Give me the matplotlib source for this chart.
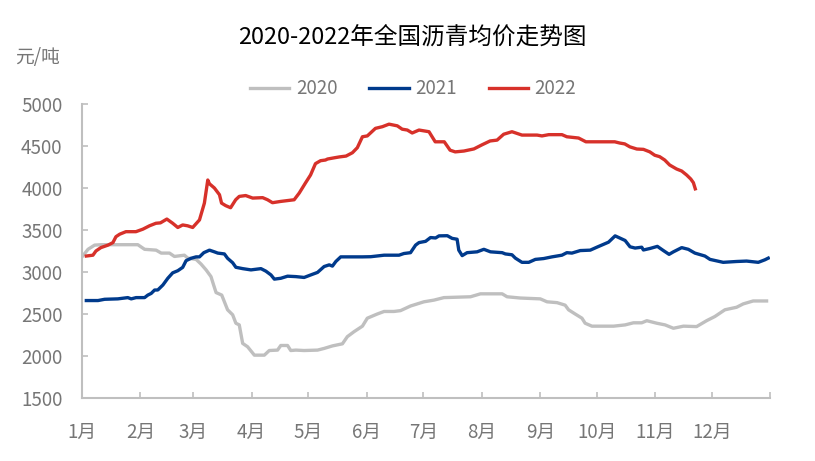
import numpy as np
import matplotlib
matplotlib.use("Agg")
import matplotlib.pyplot as plt

plt.rcParams['font.family'] = ['Noto Sans CJK SC', 'DejaVu Sans']

# 数据：日序（当年第几天）与均价（元/吨）
days_2020 = [0, 3.2, 6.7, 10.2, 29.6, 33.2, 39.3, 42, 46.4, 49, 54.3, 56.1, 60.5, 63.1, 65.8,
             68.4, 69.8, 71.1, 74.1, 77.2, 79.9, 81.6, 83.4, 85.2, 87.8, 91.4, 96.7, 99.3,
             103.7, 105.4, 109, 110.7, 113.4, 117.8, 124.9, 128.4, 132.8, 138.1, 140.7, 144.3,
             148.7, 151.3, 156.6, 160.2, 165.4, 168.9, 174.2, 181.3, 186.6, 191.9, 198.9, 206,
             211.3, 222.8, 225.4, 232.4, 243, 246.6, 251.9, 256.2, 258, 261.5, 265.1, 266.8,
             270.4, 281.9, 288, 292.4, 296.8, 299.5, 304.8, 309.2, 313.6, 318.9, 325.9, 331.2,
             335.6, 340.9, 347.1, 350.6, 355.9, 363]
price_2020 = [3180, 3270, 3320, 3325, 3325, 3270, 3260, 3225, 3225, 3185, 3200, 3165, 3150, 3095, 3025,
              2945, 2845, 2755, 2725, 2550, 2490, 2390, 2370, 2150, 2110, 2010, 2010, 2065,
              2070, 2125, 2125, 2065, 2070, 2065, 2070, 2090, 2120, 2145, 2230, 2290,
              2355, 2450, 2500, 2530, 2530, 2540, 2595, 2645, 2665, 2695, 2700, 2705,
              2740, 2740, 2705, 2690, 2680, 2645, 2635, 2605, 2550, 2500, 2450, 2390,
              2355, 2355, 2370, 2395, 2395, 2420, 2390, 2370, 2330, 2355, 2350, 2420,
              2470, 2550, 2580, 2620, 2655, 2655]

days_2021 = [2.3, 8.5, 12, 19, 24.3, 26.1, 28.7, 33.2, 34.9, 36.7, 38.5, 40.2, 42.9, 45.5, 48.1,
             50.8, 53.4, 55.2, 57.8, 60.5, 62.3, 64.6, 67.6, 70.2, 72, 75.5, 77.2, 79.9, 81.6,
             85.2, 89.6, 94.9, 97.5, 100.2, 102, 105.4, 109, 113.4, 117.8, 121.3, 124.9, 128.4,
             131.1, 132.8, 134.6, 137.2, 139.8, 148.7, 153.1, 160.2, 168.1, 170.7, 174.2, 176.9,
             178.7, 182.2, 184.8, 187.5, 189.3, 193.7, 196.3, 198.9, 199.8, 201.6, 204.2, 209.5,
             213.1, 216.6, 222.8, 224.5, 228, 229.8, 233.3, 236.9, 240.4, 244.8, 249.2, 254.5,
             257.1, 259.8, 264.2, 269.5, 273, 279.2, 282.7, 288, 290.6, 293.3, 296.8, 297.7,
             301.2, 305.1, 308.3, 311.3, 313.6, 318, 321.5, 325, 330.3, 333, 340, 347.1, 352.4,
             358.6, 362.1, 363.9]
price_2021 = [2660, 2660, 2675, 2680, 2695, 2680, 2695, 2695, 2725, 2745, 2785, 2786, 2845, 2925, 2990,
              3015, 3055, 3135, 3163, 3180, 3180, 3230, 3260, 3240, 3225, 3215, 3163, 3110, 3056,
              3040, 3025, 3040, 3010, 2965, 2915, 2925, 2950, 2945, 2935, 2965, 2995, 3065,
              3085, 3070, 3125, 3180, 3180, 3180, 3182, 3200, 3200, 3220, 3230, 3320,
              3350, 3365, 3410, 3405, 3430, 3432, 3400, 3390, 3260, 3195, 3230, 3240,
              3270, 3240, 3230, 3215, 3205, 3165, 3115, 3115, 3150, 3160, 3180, 3200,
              3230, 3225, 3255, 3260, 3295, 3355, 3430, 3375, 3300, 3285, 3295, 3262,
              3280, 3305, 3255, 3210, 3240, 3290, 3270, 3225, 3190, 3150, 3115, 3125, 3130,
              3115, 3145, 3165]

days_2022 = [2.3, 5.8, 7.4, 10, 13.8, 16.4, 18, 20, 23.3, 28.6, 32.3, 35.8, 39.2, 41.6, 45, 48.1,
             50.8, 53.4, 56, 58.7, 62.3, 64.9, 66.7, 67.6, 70.2, 72.9, 74, 76.2, 78.8, 81.5,
             83.4, 86.8, 90.5, 95.8, 98.4, 101, 105.3, 112.5, 115.2, 118.5, 121.2, 123.8,
             126.5, 129.1, 130.2, 133.9, 136.5, 140, 143.4, 146, 148.7, 151.3, 155.6, 159.3,
             162.8, 167.2, 169.8, 172.5, 175.1, 178.7, 184, 187.3, 192.1, 195.2, 197.9, 202.5,
             207.8, 212.2, 216.4, 220.1, 223.6, 228, 233.3, 241.3, 243.9, 247.5, 254.5, 257.1,
             263.3, 267.2, 282.5, 285.2, 287.8, 290.5, 294.2, 297.7, 301.1, 303.7, 306.3, 309,
             311.6, 315.3, 318, 320.6, 322.8, 324.2, 325.2]
price_2022 = [3190, 3200, 3250, 3290, 3320, 3350, 3420, 3450, 3480, 3480, 3510, 3550, 3580, 3585, 3630, 3580,
              3530, 3560, 3550, 3530, 3620, 3820, 4095, 4050, 4000, 3920, 3820, 3790, 3765, 3860,
              3900, 3910, 3880, 3885, 3860, 3825, 3840, 3860, 3940, 4060, 4155, 4290,
              4325, 4333, 4345, 4360, 4370, 4380, 4420, 4480, 4610, 4620, 4710, 4730,
              4760, 4740, 4700, 4690, 4655, 4690, 4670, 4550, 4550, 4450, 4430, 4440,
              4465, 4515, 4560, 4570, 4640, 4670, 4630, 4630, 4620, 4635, 4635, 4610,
              4595, 4550, 4550, 4535, 4525, 4490, 4464, 4460, 4430, 4390, 4373, 4333,
              4274, 4226, 4202, 4155, 4107, 4063, 3990]

month_days = [31, 28, 31, 30, 31, 30, 31, 31, 30, 31, 30, 31]
month_labels = [f'{m}月' for m in range(1, 13)]
month_starts = np.concatenate([[0], np.cumsum(month_days)])

fig = plt.figure(figsize=(8.15, 4.61), dpi=100)
ax = fig.add_axes([0.1006, 0.1367, 0.8446, 0.6377])

ax.plot(days_2020, price_2020, color='#BFBFBF', lw=2.4, label='2020')
ax.plot(days_2021, price_2021, color='#003A8C', lw=2.4, label='2021')
ax.plot(days_2022, price_2022, color='#D7312A', lw=2.4, label='2022')

ax.set_xlim(0, 365)
ax.set_ylim(1500, 5000)
ax.set_yticks(np.arange(1500, 5001, 500))
ax.set_xticks(month_starts)
ax.set_xticklabels(month_labels + [''])

for s in ['top', 'right']:
    ax.spines[s].set_visible(False)
for s in ['left', 'bottom']:
    ax.spines[s].set_color('#BFBFBF')
    ax.spines[s].set_linewidth(1.5)

ax.tick_params(axis='y', direction='in', length=4, width=1.2, color='#BFBFBF',
               labelcolor='#767676', labelsize=13.5, pad=14)
ax.tick_params(axis='x', direction='in', length=4, width=1.2, color='#BFBFBF',
               labelcolor='#767676', labelsize=13.5, pad=17)

fig.text(0.506, 0.917, '2020-2022年全国沥青均价走势图', ha='center', va='center',
         fontsize=17, color='black')
fig.text(0.018, 0.876, '元/吨', ha='left', va='center', fontsize=13.5, color='#767676')

fig.legend(loc='center', bbox_to_anchor=(0.507, 0.807), ncol=3, frameon=False,
           fontsize=13.5, labelcolor='#767676', handlelength=2.1, handletextpad=0.35,
           columnspacing=1.7)

fig.savefig('out.png', dpi=100)
